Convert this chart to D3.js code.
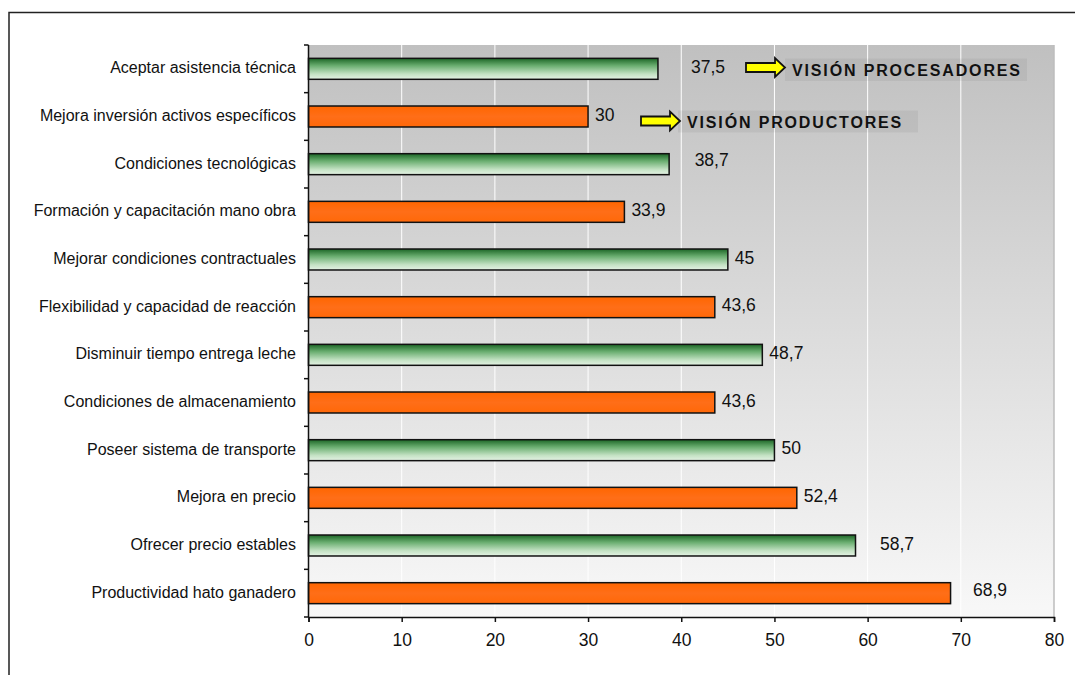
<!DOCTYPE html>
<html>
<head>
<meta charset="utf-8">
<script src="https://cdn.jsdelivr.net/npm/d3@7"></script>
<style>
  html, body { margin: 0; padding: 0; background: #fff; }
  svg { display: block; font-family: "Liberation Sans", Arial, sans-serif; }
</style>
</head>
<body>
<svg id="chart" width="1075" height="675"></svg>
<script>
// Factores de mejora según la visión de cada actor (%)
const categories = [
  "Aceptar asistencia técnica",
  "Mejora inversión activos específicos",
  "Condiciones tecnológicas",
  "Formación y capacitación mano obra",
  "Mejorar condiciones contractuales",
  "Flexibilidad y capacidad de reacción",
  "Disminuir tiempo entrega leche",
  "Condiciones de almacenamiento",
  "Poseer sistema de transporte",
  "Mejora en precio",
  "Ofrecer precio estables",
  "Productividad hato ganadero"
];
const values = [37.5, 30, 38.7, 33.9, 45, 43.6, 48.7, 43.6, 50, 52.4, 58.7, 68.9];
const vision = [
  "procesadores", "productores", "procesadores", "productores",
  "procesadores", "productores", "procesadores", "productores",
  "procesadores", "productores", "procesadores", "productores"
];
const xTicks = [0, 10, 20, 30, 40, 50, 60, 70, 80];
const legendLabels = ["VISIÓN PROCESADORES", "VISIÓN PRODUCTORES"];

const svg = d3.select("#chart");
const plot = { left: 308.5, right: 1054, top: 45, bottom: 617 };

const x = d3.scaleLinear().domain([0, 80]).range([plot.left, plot.right]);
const y = d3.scaleBand().domain(categories).range([plot.top, plot.bottom])
  .paddingInner(0.56).paddingOuter(0.28);

const defs = svg.append("defs");
const bg = defs.append("linearGradient").attr("id", "bgGrad")
  .attr("x1", 0).attr("y1", 0).attr("x2", 0).attr("y2", 1);
bg.append("stop").attr("offset", "0%").attr("stop-color", "#c0c0c0");
bg.append("stop").attr("offset", "100%").attr("stop-color", "#f8f8f8");

const gGreen = defs.append("linearGradient").attr("id", "greenGrad")
  .attr("x1", 0).attr("y1", 0).attr("x2", 0).attr("y2", 1);
gGreen.append("stop").attr("offset", "0%").attr("stop-color", "#1c6626");
gGreen.append("stop").attr("offset", "35%").attr("stop-color", "#6aae70");
gGreen.append("stop").attr("offset", "75%").attr("stop-color", "#c4e2c4");
gGreen.append("stop").attr("offset", "100%").attr("stop-color", "#e4f2e4");

const gOrange = defs.append("linearGradient").attr("id", "orangeGrad")
  .attr("x1", 0).attr("y1", 0).attr("x2", 0).attr("y2", 1);
gOrange.append("stop").attr("offset", "0%").attr("stop-color", "#ff6600");
gOrange.append("stop").attr("offset", "50%").attr("stop-color", "#ff6e18");
gOrange.append("stop").attr("offset", "100%").attr("stop-color", "#ff6808");

const fillFor = { procesadores: "url(#greenGrad)", productores: "url(#orangeGrad)" };

// Outer frame of the chart
svg.append("rect")
  .attr("x", 9).attr("y", 12.5).attr("width", 1100).attr("height", 700)
  .attr("fill", "none").attr("stroke", "#222").attr("stroke-width", 1.5);

// Plot area background
svg.append("rect")
  .attr("x", plot.left).attr("y", plot.top)
  .attr("width", plot.right - plot.left).attr("height", plot.bottom - plot.top)
  .attr("fill", "url(#bgGrad)");
svg.append("line")
  .attr("x1", plot.right).attr("x2", plot.right)
  .attr("y1", plot.top).attr("y2", plot.bottom)
  .attr("stroke", "#bdbdbd").attr("stroke-width", 1.5);

// Vertical gridlines
svg.append("g").selectAll("line")
  .data(xTicks.filter(t => t > 0 && t < 80))
  .join("line")
  .attr("x1", d => x(d)).attr("x2", d => x(d))
  .attr("y1", plot.top).attr("y2", plot.bottom)
  .attr("stroke", "#ffffff").attr("stroke-width", 1);

// Bars
const rows = categories.map((c, i) => ({ cat: c, value: values[i], vision: vision[i] }));
svg.append("g").selectAll("rect")
  .data(rows)
  .join("rect")
  .attr("x", x(0))
  .attr("y", d => y(d.cat))
  .attr("width", d => x(d.value) - x(0))
  .attr("height", y.bandwidth())
  .attr("fill", d => fillFor[d.vision])
  .attr("stroke", "#111").attr("stroke-width", 1.5);

// Value labels (a few sit further right, as placed in the original sheet)
const labelShift = { 0: [26, 0], 2: [18.5, -2.5], 10: [17.5, 0], 11: [15.5, -1] };
const fmt = v => String(v).replace(".", ",");
svg.append("g").selectAll("text")
  .data(rows)
  .join("text")
  .attr("x", (d, i) => x(d.value) + 7 + (labelShift[i] ? labelShift[i][0] : 0))
  .attr("y", (d, i) => y(d.cat) + y.bandwidth() / 2 - 2 + (labelShift[i] ? labelShift[i][1] : 0))
  .attr("dy", "0.35em")
  .attr("font-size", 17.5)
  .attr("fill", "#111")
  .text(d => fmt(d.value));

// Category axis: line, boundary ticks and labels
const yAxis = svg.append("g");
yAxis.append("line")
  .attr("x1", plot.left).attr("x2", plot.left)
  .attr("y1", plot.top).attr("y2", plot.bottom)
  .attr("stroke", "#111").attr("stroke-width", 1.5);
yAxis.selectAll("line.tick")
  .data(d3.range(categories.length + 1))
  .join("line").attr("class", "tick")
  .attr("x1", plot.left - 4.5).attr("x2", plot.left)
  .attr("y1", i => plot.top + i * y.step()).attr("y2", i => plot.top + i * y.step())
  .attr("stroke", "#111").attr("stroke-width", 1.5);
yAxis.selectAll("text")
  .data(categories)
  .join("text")
  .attr("x", 296)
  .attr("y", d => y(d) + y.bandwidth() / 2 - 1)
  .attr("dy", "0.35em")
  .attr("text-anchor", "end")
  .attr("font-size", 16)
  .attr("fill", "#111")
  .text(d => d);

// Value axis
const xAxis = svg.append("g")
  .attr("transform", `translate(0,${plot.bottom})`)
  .call(d3.axisBottom(x).tickValues(xTicks).tickSize(5).tickPadding(12).tickFormat(d3.format("d")));
xAxis.select(".domain").attr("stroke", "#111").attr("stroke-width", 1.5);
xAxis.selectAll(".tick line").attr("stroke", "#111").attr("stroke-width", 1.5);
xAxis.selectAll(".tick text")
  .attr("font-size", 17.5)
  .attr("font-family", "'Liberation Sans', Arial, sans-serif")
  .attr("fill", "#111");

// Legend callouts: yellow arrows pointing at the group names
const legendItems = [
  { label: legendLabels[0], ax: 746, ay: 67.5, box: [785, 58.5, 242, 22.5], tx: 792, ty: 76 },
  { label: legendLabels[1], ax: 641, ay: 121, box: [678, 110.5, 240, 22], tx: 687, ty: 127.5 }
];
function arrowPath(x0, cy) {
  const shaftW = 29, headW = 10, shaftH = 9, headH = 19;
  return `M${x0},${cy - shaftH / 2} L${x0 + shaftW},${cy - shaftH / 2} L${x0 + shaftW},${cy - headH / 2}` +
    ` L${x0 + shaftW + headW},${cy} L${x0 + shaftW},${cy + headH / 2} L${x0 + shaftW},${cy + shaftH / 2}` +
    ` L${x0},${cy + shaftH / 2} Z`;
}
const legend = svg.append("g").selectAll("g").data(legendItems).join("g");
legend.append("rect")
  .attr("x", d => d.box[0]).attr("y", d => d.box[1])
  .attr("width", d => d.box[2]).attr("height", d => d.box[3])
  .attr("fill", "#000").attr("fill-opacity", 0.05);
legend.append("path")
  .attr("d", d => arrowPath(d.ax, d.ay))
  .attr("fill", "#ffff00").attr("stroke", "#111").attr("stroke-width", 1.8)
  .attr("stroke-linejoin", "miter");
legend.append("text")
  .attr("x", d => d.tx).attr("y", d => d.ty)
  .attr("font-size", 16).attr("font-weight", "bold")
  .attr("letter-spacing", 1.85)
  .attr("fill", "#111")
  .text(d => d.label);
</script>
</body>
</html>
